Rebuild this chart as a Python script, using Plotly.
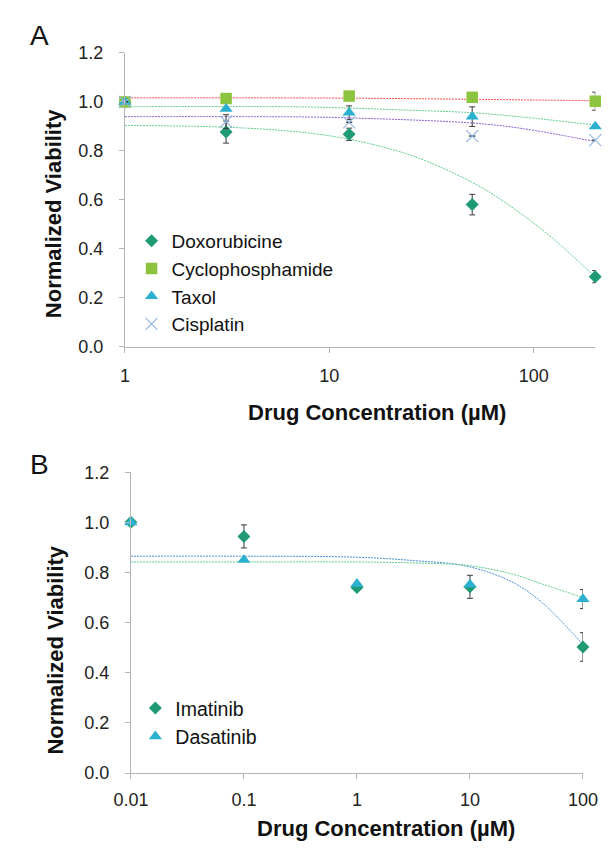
import plotly.graph_objects as go

W, H = 615, 856

# ---------------- Panel A data ----------------
conc_a = [1, 3.125, 12.5, 50, 200]
dox = [1.0, 0.877, 0.868, 0.581, 0.287]
dox_err = [0.0, 0.045, 0.025, 0.042, 0.025]
cyclo = [1.0, 1.014, 1.024, 1.019, 1.003]
cyclo_err = [0.0, 0.0, 0.0, 0.0, 0.037]
taxol = [1.0, 0.972, 0.956, 0.940, 0.900]
taxol_err = [0.0, 0.0, 0.028, 0.040, 0.0]
cis = [1.0, 0.920, 0.917, 0.861, 0.844]
cis_err = [0.0, 0.028, 0.0, 0.0, 0.0]

# fitted curves
fit_x_cyclo = [1, 10, 37, 100, 200]
fit_y_cyclo = [1.017, 1.016, 1.012, 1.008, 1.005]
fit_x_taxol = [1, 7.4, 12.5, 21.5, 50, 89, 200]
fit_y_taxol = [0.981, 0.980, 0.975, 0.968, 0.956, 0.938, 0.906]
fit_x_cis = [1, 7.4, 12.5, 50, 89, 200]
fit_y_cis = [0.940, 0.939, 0.935, 0.914, 0.891, 0.838]
fit_x_dox = [1, 3.125, 7.4, 12.5, 21.5, 30.6, 50, 62.5, 89, 127, 200]
fit_y_dox = [0.904, 0.897, 0.876, 0.848, 0.800, 0.755, 0.672, 0.625, 0.537, 0.435, 0.286]

# ---------------- Panel B data ----------------
conc_b = [0.01, 0.1, 1, 10, 100]
imat = [1.0, 0.944, 0.740, 0.743, 0.503]
imat_err = [0.0, 0.046, 0.0, 0.046, 0.057]
dasa = [1.0, 0.850, 0.755, 0.752, 0.694]
dasa_err = [0.0, 0.0, 0.0, 0.0, 0.038]

fit_x_imat = [0.01, 0.1, 1, 3.3, 9.2, 22.7, 43, 100]
fit_y_imat = [0.865, 0.865, 0.861, 0.847, 0.826, 0.766, 0.682, 0.512]
fit_x_dasa = [0.01, 0.1, 1, 3.3, 9.2, 22.7, 43, 100]
fit_y_dasa = [0.842, 0.842, 0.842, 0.838, 0.829, 0.796, 0.755, 0.700]

y_ticks = [0, 0.2, 0.4, 0.6, 0.8, 1.0, 1.2]
y_ticktext = ["0.0", "0.2", "0.4", "0.6", "0.8", "1.0", "1.2"]
xa_ticks = [1, 10, 100]
xa_text = ["1", "10", "100"]
xb_ticks = [0.01, 0.1, 1, 10, 100]
xb_text = ["0.01", "0.1", "1", "10", "100"]

C_DOX = "#1f9a74"
C_CYC = "#8cc43f"
C_TAX = "#2bb0d0"
C_CIS = "#8fb3e0"
ERR = "#3a3a3a"
FONT = "Liberation Sans, Arial, sans-serif"

fig = go.Figure()


def fit(x, y, color, xa, ya):
    fig.add_trace(go.Scatter(x=x, y=y, mode="lines", xaxis=xa, yaxis=ya,
                             line=dict(color=color, width=1, dash="2px,1px", shape="spline"),
                             showlegend=False, hoverinfo="skip"))


def pts(x, y, err, name, color, symbol, size, xa, ya, legend, lw=0, lc=None):
    fig.add_trace(go.Scatter(
        x=x, y=y, mode="markers", name=name, xaxis=xa, yaxis=ya, legend=legend,
        legendgroup=name,
        marker=dict(color=color, symbol=symbol, size=size,
                    line=dict(width=lw, color=lc or color)),
        error_y=dict(type="data", array=err, visible=True, color=ERR,
                     thickness=1, width=3),
        cliponaxis=False))


# Panel A
fit(fit_x_cyclo, fit_y_cyclo, "#ff4a4a", "x", "y")
fit(fit_x_taxol, fit_y_taxol, "#5fcf8e", "x", "y")
fit(fit_x_cis, fit_y_cis, "#8a5fd0", "x", "y")
fit(fit_x_dox, fit_y_dox, "#5fcf8e", "x", "y")
pts(conc_a, dox, dox_err, "Doxorubicine", C_DOX, "diamond", 10, "x", "y", "legend")
pts(conc_a, cyclo, cyclo_err, "Cyclophosphamide", C_CYC, "square", 11.5, "x", "y", "legend")
pts(conc_a, taxol, taxol_err, "Taxol", C_TAX, "triangle-up", 11.5, "x", "y", "legend")
pts(conc_a, cis, cis_err, "Cisplatin", C_CIS, "x-thin", 12, "x", "y", "legend", lw=1.1, lc=C_CIS)

# Panel B
fit(fit_x_imat, fit_y_imat, "#4a8fd8", "x2", "y2")
fit(fit_x_dasa, fit_y_dasa, "#5fcf8e", "x2", "y2")
pts(conc_b, imat, imat_err, "Imatinib", C_DOX, "diamond", 10, "x2", "y2", "legend2")
pts(conc_b, dasa, dasa_err, "Dasatinib", C_TAX, "triangle-up", 11.5, "x2", "y2", "legend2")

axis_common = dict(showline=True, linecolor="#b5b5b5", linewidth=1, showgrid=False,
                   zeroline=False, ticks="outside", ticklen=5, tickcolor="#b5b5b5",
                   tickfont=dict(family=FONT, size=18, color="#222"))


def px_x(p):
    return p / W


def px_y(p):
    return 1 - p / H


fig.update_layout(
    width=W, height=H, margin=dict(l=0, r=0, t=0, b=0),
    paper_bgcolor="white", plot_bgcolor="white",
    font=dict(family=FONT, color="#111"),
    xaxis=dict(type="log", range=[0, 2.30103], domain=[px_x(113), px_x(610)],
               tickmode="array", tickvals=xa_ticks, ticktext=xa_text,
               anchor="y", ticklabelstandoff=7, **axis_common),
    yaxis=dict(range=[0, 1.2], domain=[px_y(345), px_y(44)], tickmode="array",
               tickvals=y_ticks, ticktext=y_ticktext, anchor="x",
               ticklabelstandoff=12, **axis_common),
    xaxis2=dict(type="log", range=[-2, 2], domain=[px_x(119.3), px_x(597)],
                tickmode="array", tickvals=xb_ticks, ticktext=xb_text,
                anchor="y2", ticklabelstandoff=5, **axis_common),
    yaxis2=dict(range=[0, 1.2], domain=[px_y(781.3), px_y(473.3)], tickmode="array",
                tickvals=y_ticks, ticktext=y_ticktext, anchor="x2",
                ticklabelstandoff=12, **axis_common),
    legend=dict(x=px_x(120), y=px_y(217), xanchor="left", yanchor="top",
                font=dict(family=FONT, size=19, color="#111"),
                bgcolor="rgba(0,0,0,0)", itemwidth=30, tracegroupgap=0),
    legend2=dict(x=px_x(124), y=px_y(695), xanchor="left", yanchor="top",
                 font=dict(family=FONT, size=19.5, color="#111"),
                 bgcolor="rgba(0,0,0,0)", itemwidth=30, tracegroupgap=0),
)

title_font = dict(family=FONT, size=22, color="#111")
letter_font = dict(family=FONT, size=28, color="#111")
ann = [
    dict(text="A", x=px_x(23), y=px_y(26), font=letter_font),
    dict(text="B", x=px_x(23), y=px_y(465), font=letter_font),
    dict(text="<b>Drug Concentration (µM)</b>", x=px_x(379), y=px_y(412), font=title_font),
    dict(text="<b>Drug Concentration (µM)</b>", x=px_x(389), y=px_y(838), font=title_font),
    dict(text="<b>Normalized Viability</b>", x=px_x(37), y=px_y(209), font=title_font, textangle=-90),
    dict(text="<b>Normalized Viability</b>", x=px_x(40), y=px_y(655), font=title_font, textangle=-90),
]
for a in ann:
    fig.add_annotation(xref="paper", yref="paper", showarrow=False,
                       xanchor="center", yanchor="middle", **a)

fig.write_html("out.html")
